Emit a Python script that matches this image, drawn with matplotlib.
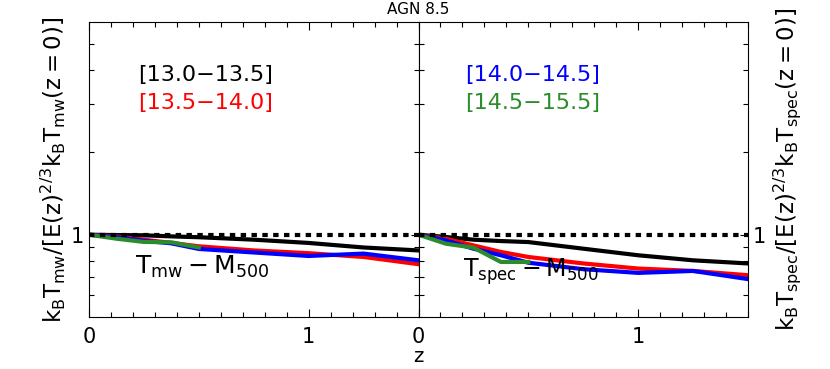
import matplotlib
matplotlib.use('Agg')
import matplotlib.pyplot as plt

plt.rcParams['mathtext.fontset'] = 'dejavusans'

# redshift snapshots
z = [0.0, 0.125, 0.25, 0.375, 0.5, 0.75, 1.0, 1.25, 1.5]
z_green = [0.0, 0.125, 0.25, 0.375, 0.5]

# mass-weighted temperature (left panel)
mw_black = [1.0, 0.997, 0.995, 0.986, 0.979, 0.959, 0.933, 0.898, 0.876]
mw_red = [1.0, 0.986, 0.959, 0.933, 0.907, 0.876, 0.856, 0.829, 0.780]
mw_blue = [1.0, 0.980, 0.950, 0.930, 0.887, 0.861, 0.836, 0.853, 0.806]
mw_green = [1.0, 0.967, 0.941, 0.938, 0.898]

# spectroscopic temperature (right panel)
sp_black = [1.0, 0.981, 0.959, 0.948, 0.940, 0.889, 0.841, 0.806, 0.785]
sp_red = [1.0, 0.967, 0.914, 0.865, 0.829, 0.785, 0.752, 0.737, 0.711]
sp_blue = [1.0, 0.953, 0.889, 0.841, 0.790, 0.748, 0.725, 0.737, 0.688]
sp_green = [1.0, 0.927, 0.897, 0.795, 0.795]

bins_left = ['[13.0\u221213.5]', '[13.5\u221214.0]']
bins_right = ['[14.0\u221214.5]', '[14.5\u221215.5]']

black = 'black'
red = '#ff0000'
blue = '#0000ff'
green = '#2a8c2a'

fig = plt.figure(figsize=(8.3, 3.69), dpi=100)
W, H = 830, 369
ax1 = fig.add_axes([89 / W, (H - 317) / H, 329.5 / W, 295 / H])
ax2 = fig.add_axes([418.5 / W, (H - 317) / H, 329.5 / W, 295 / H])

for ax, data in [(ax1, (mw_black, mw_red, mw_blue, mw_green)),
                 (ax2, (sp_black, sp_red, sp_blue, sp_green))]:
    b, r, bl, g = data
    ax.plot(z, b, color=black, lw=3, solid_joinstyle='round')
    ax.plot(z, r, color=red, lw=3, solid_joinstyle='round')
    ax.plot(z, bl, color=blue, lw=3, solid_joinstyle='round')
    ax.plot(z_green, g, color=green, lw=3, solid_joinstyle='round')
    ax.axhline(1.0, color='black', lw=3, ls=(0, (1.3, 1.3)))
    ax.set_yscale('log')
    ax.set_xlim(0, 1.5)
    ax.set_ylim(0.5, 6)
    ax.set_xticks([0, 1])
    ax.set_xticks([i / 10 for i in range(16)], minor=True)
    ax.set_yticks([1])
    ax.set_yticks([0.6, 0.7, 0.8, 0.9, 2, 3, 4, 5], minor=True)
    ax.yaxis.set_minor_formatter(plt.NullFormatter())
    ax.tick_params(which='both', direction='in', top=True, right=True,
                   labelsize=15, width=0.8)
    ax.tick_params(which='major', length=6)
    ax.tick_params(which='minor', length=3.5)
    ax.tick_params(axis='x', pad=7)
    for s in ax.spines.values():
        s.set_linewidth(0.8)

ax1.set_xticklabels(['0', '1'])
ax1.set_yticklabels(['1'])
ax2.set_xticklabels(['0', '1'])
ax2.tick_params(axis='y', labelleft=False, labelright=True, which='both')
ax2.set_yticklabels(['1'])

ax1.set_ylabel(r'$\mathregular{k_BT_{mw}/[E(z)^{2/3}k_BT_{mw}(z=0)]}$',
               fontsize=16.5, labelpad=2)
ax2.yaxis.set_label_position('right')
ax2.set_ylabel(r'$\mathregular{k_BT_{spec}/[E(z)^{2/3}k_BT_{spec}(z=0)]}$',
               fontsize=16.5, labelpad=4)

ax1.text(0.15, 0.82, bins_left[0], transform=ax1.transAxes, fontsize=16,
         color=black, va='center')
ax1.text(0.15, 0.725, bins_left[1], transform=ax1.transAxes, fontsize=16,
         color=red, va='center')
ax2.text(0.14, 0.82, bins_right[0], transform=ax2.transAxes, fontsize=16,
         color=blue, va='center')
ax2.text(0.14, 0.725, bins_right[1], transform=ax2.transAxes, fontsize=16,
         color=green, va='center')

ax1.text(0.14, 0.17, r'$\mathregular{T_{mw}-M_{500}}$', transform=ax1.transAxes,
         fontsize=18, va='center')
ax2.text(0.135, 0.155, r'$\mathregular{T_{spec}-M_{500}}$', transform=ax2.transAxes,
         fontsize=17, va='center')

fig.text(418 / W, 1 - 10 / H, 'AGN 8.5', ha='center', va='center', fontsize=11)
fig.text(418 / W, 1 - 356 / H, 'z', ha='center', va='center', fontsize=14)

fig.savefig('out.png', dpi=100)
